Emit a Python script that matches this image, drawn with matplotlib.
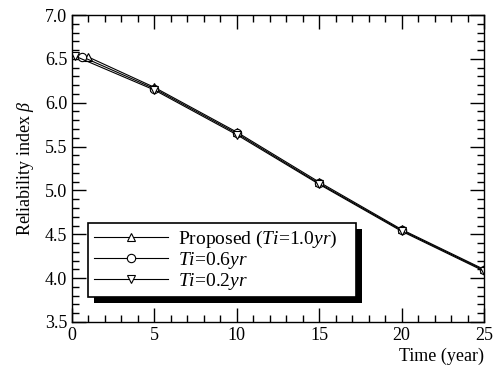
import matplotlib
matplotlib.use('Agg')
import matplotlib.pyplot as plt
from matplotlib.patches import Rectangle
from matplotlib.ticker import MultipleLocator

plt.rcParams['font.family'] = 'Liberation Serif'
plt.rcParams['mathtext.fontset'] = 'custom'
plt.rcParams['mathtext.rm'] = 'Liberation Serif'
plt.rcParams['mathtext.it'] = 'Liberation Serif:italic'

# données
t_10 = [1.0, 5, 10, 15, 20, 25]
beta_10 = [6.52, 6.175, 5.665, 5.095, 4.555, 4.10]
t_06 = [0.6, 5, 10, 15, 20, 25]
beta_06 = [6.525, 6.16, 5.65, 5.08, 4.545, 4.09]
t_02 = [0.2, 5, 10, 15, 20, 25]
beta_02 = [6.53, 6.145, 5.635, 5.07, 4.535, 4.08]

labels = ['Proposed ($Ti$=1.0$yr$)', '$Ti$=0.6$yr$', '$Ti$=0.2$yr$']

fig = plt.figure(figsize=(4.95, 3.74), dpi=100)
ax = fig.add_axes([72 / 495, 52 / 374, 412 / 495, 307 / 374])

mk = dict(color='black', lw=0.8, markerfacecolor='white', markeredgecolor='black',
          markersize=6, markeredgewidth=0.8)
ax.plot(t_10, beta_10, marker='^', label=labels[0], **mk)
ax.plot(t_06, beta_06, marker='o', label=labels[1], **mk)
ax.plot(t_02, beta_02, marker='v', label=labels[2], **mk)

ax.set_xlim(0, 25)
ax.set_ylim(3.5, 7.0)
ax.xaxis.set_major_locator(MultipleLocator(5))
ax.xaxis.set_minor_locator(MultipleLocator(1))
ax.yaxis.set_major_locator(MultipleLocator(0.5))
ax.yaxis.set_minor_locator(MultipleLocator(0.1))
ax.yaxis.set_major_formatter(matplotlib.ticker.FormatStrFormatter('%.1f'))
ax.tick_params(which='both', direction='in', top=True, right=True, labelsize=13)
ax.tick_params(which='major', length=10, width=1)
ax.tick_params(which='minor', length=5, width=1)
for s in ax.spines.values():
    s.set_linewidth(1)

ax.set_ylabel(r'Reliability index $\beta$', fontsize=13, labelpad=6)
ax.set_xlabel('Time (year)', fontsize=13, labelpad=0)
ax.xaxis.set_label_coords(1.0, -0.085)
ax.xaxis.label.set_horizontalalignment('right')

leg = ax.legend(loc='lower left', bbox_to_anchor=(0.039, 0.08, 0.65, 0.25),
                mode='expand', fontsize=14, frameon=True, fancybox=False,
                framealpha=1, handlelength=3.8, handletextpad=0.5, labelspacing=0.0,
                borderpad=0.3, borderaxespad=0)
leg.get_frame().set_edgecolor('black')
leg.get_frame().set_facecolor('white')
leg.get_frame().set_linewidth(1.2)
leg.set_zorder(5)

# ombre pleine décalée sous la légende
fig.canvas.draw()
bb = leg.get_window_extent()
shadow = Rectangle((bb.x0 + 6, bb.y0 - 6), bb.width, bb.height,
                   transform=None, facecolor='black', edgecolor='none', zorder=4)
ax.add_artist(shadow)

plt.savefig('out.png', dpi=100)
plt.close()
